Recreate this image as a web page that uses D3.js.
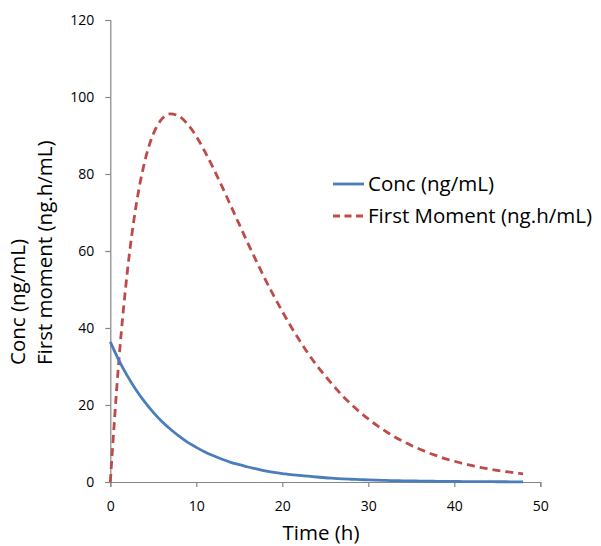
<!DOCTYPE html>
<html>
<head>
<meta charset="utf-8">
<script src="https://cdn.jsdelivr.net/npm/d3@7"></script>
<style>
  html, body { margin: 0; padding: 0; background: #ffffff; }
  svg { display: block; }
  text { font-family: "Open Sans", "Noto Sans", sans-serif; fill: #000; }
</style>
</head>
<body>
<svg id="chart" width="601" height="546"></svg>
<script>
// ---- data ----
const timeH = [0,1,2,3,4,5,6,7,8,9,10,11,12,13,14,15,16,17,18,19,20,21,22,23,24,25,26,27,28,29,30,31,32,33,34,35,36,37,38,39,40,41,42,43,44,45,46,47,48];
const concValues = [36.4,31.6,27.5,23.9,20.8,18.1,15.7,13.7,11.9,10.3,9.0,7.8,6.8,5.9,5.1,4.5,3.9,3.4,2.9,2.5,2.2,1.9,1.7,1.5,1.3,1.1,0.96,0.83,0.72,0.63,0.55,0.47,0.41,0.36,0.31,0.27,0.24,0.21,0.18,0.16,0.13,0.12,0.10,0.09,0.08,0.07,0.06,0.05,0.04];
const firstMomentValues = [0,31.6,55.0,71.8,83.2,90.4,94.3,95.6,95.0,92.9,89.8,85.8,81.4,76.7,71.8,66.9,62.0,57.3,52.7,48.4,44.3,40.4,36.8,33.4,30.3,27.5,24.9,22.4,20.2,18.2,16.4,14.7,13.2,11.8,10.6,9.5,8.5,7.6,6.8,6.0,5.4,4.8,4.3,3.8,3.4,3.0,2.7,2.4,2.1];
const xTicks = [0,10,20,30,40,50];
const yTicks = [0,20,40,60,80,100,120];
const seriesNames = ["Conc (ng/mL)", "First Moment (ng.h/mL)"];
const yTitleLines = ["Conc (ng/mL)", "First moment (ng.h/mL)"];
const xTitle = "Time (h)";

// ---- layout ----
const svg = d3.select("#chart");
const axisColor = "#868686";
const colors = ["#4A7EBB", "#BE4B48"];

const x = d3.scaleLinear().domain([0, 50]).range([110.3, 540.3]);
const y = d3.scaleLinear().domain([0, 120]).range([482, 20]);

// y axis
const yAxis = svg.append("g").attr("transform", `translate(${x(0)},0)`)
  .call(d3.axisLeft(y).tickValues(yTicks).tickSize(5).tickPadding(11).tickFormat(d3.format("d")));
// x axis
const xAxis = svg.append("g").attr("transform", `translate(0,${y(0)})`)
  .call(d3.axisBottom(x).tickValues(xTicks).tickSize(5).tickPadding(14).tickFormat(d3.format("d")));

[yAxis, xAxis].forEach(g => {
  g.select(".domain").attr("stroke", axisColor).attr("stroke-width", 1.2);
  g.selectAll(".tick line").attr("stroke", axisColor).attr("stroke-width", 1.2);
  g.selectAll(".tick text").attr("font-size", 14).attr("font-family", "'Open Sans', sans-serif").attr("fill", "#000");
});

// lines
const line = d3.line().x((d, i) => x(timeH[i])).y(d => y(d)).curve(d3.curveMonotoneX);

svg.append("path").datum(firstMomentValues)
  .attr("d", line).attr("fill", "none")
  .attr("stroke", colors[1]).attr("stroke-width", 2.8)
  .attr("stroke-dasharray", "8,5");

svg.append("path").datum(concValues)
  .attr("d", line).attr("fill", "none")
  .attr("stroke", colors[0]).attr("stroke-width", 2.8);

// y title (two lines, rotated, start-aligned at bottom)
yTitleLines.forEach((t, i) => {
  svg.append("text")
    .attr("transform", `translate(${25 + i * 27},365) rotate(-90)`)
    .attr("text-anchor", "start")
    .attr("font-size", 20.5)
    .text(t);
});

// x title
svg.append("text")
  .attr("x", 321).attr("y", 540)
  .attr("text-anchor", "middle")
  .attr("font-size", 20.5)
  .text(xTitle);

// legend
const legend = svg.append("g");
seriesNames.forEach((name, i) => {
  const ly = 184 + i * 32;
  legend.append("line")
    .attr("x1", 333).attr("x2", 364).attr("y1", ly).attr("y2", ly)
    .attr("stroke", colors[i]).attr("stroke-width", 2.8)
    .attr("stroke-dasharray", i === 1 ? "7,4.5" : null);
  legend.append("text")
    .attr("x", 368).attr("y", ly).attr("dy", "0.35em")
    .attr("font-size", 20.5)
    .text(name);
});
</script>
</body>
</html>
